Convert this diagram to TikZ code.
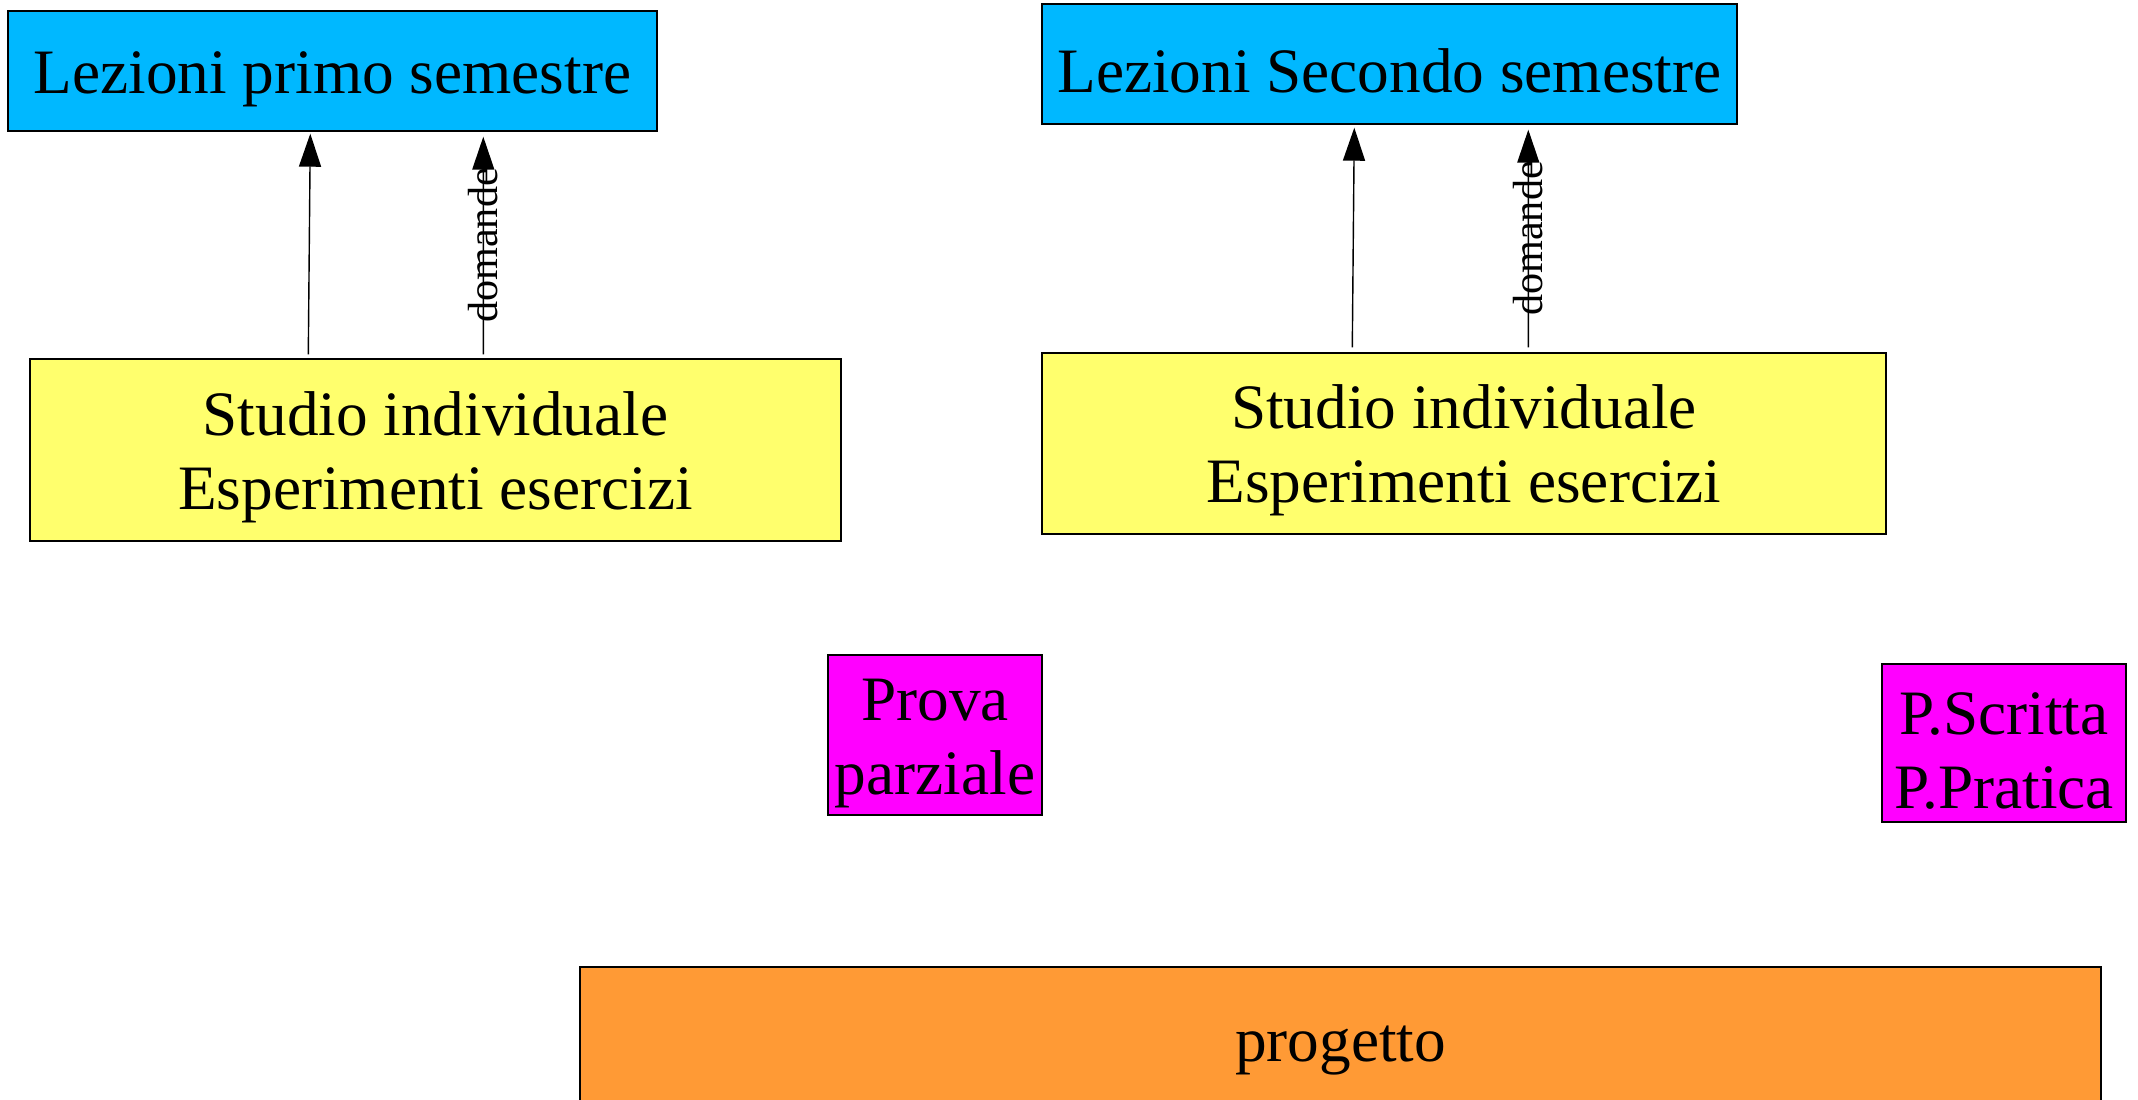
\documentclass[tikz,border=0pt]{standalone}
\usepackage{fontspec}
\setmainfont{Liberation Serif}
\usetikzlibrary{calc,arrows.meta}
\definecolor{lezblue}{HTML}{00B8FF}
\definecolor{studyellow}{HTML}{FFFF6D}
\definecolor{provmagenta}{HTML}{FF00FF}
\definecolor{progorange}{HTML}{FF9A35}
\newcommand{\tstrut}{\vrule width 0pt height 16.5pt}

\begin{document}
\begin{tikzpicture}[
  box/.style={draw, line width=0.4pt, inner sep=0pt, align=center, font=\fontsize{18}{21}\selectfont},
  arr/.style={-{Triangle[width=0.22cm,length=0.33cm]}, line width=0.4pt},
  qlabel/.style={midway, rotate=90, inner sep=0pt, font=\fontsize{12}{14}\selectfont}
]
\useasboundingbox (0, 0) rectangle (21.38, 10.99);

\node [box, fill=lezblue, minimum width=6.49cm, minimum height=1.20cm] (lez1) at (3.325, 10.28) {\tstrut Lezioni primo semestre};
\node [box, fill=lezblue, minimum width=6.95cm, minimum height=1.20cm] (lez2) at (13.895, 10.35) {\tstrut Lezioni Secondo semestre};

\node [box, fill=studyellow, minimum width=8.11cm, minimum height=1.82cm] (studio1) at (4.355, 6.49) {\tstrut Studio individuale\\Esperimenti esercizi};
\node [box, fill=studyellow, minimum width=8.44cm, minimum height=1.81cm] (studio2) at (14.64, 6.555) {\tstrut Studio individuale\\Esperimenti esercizi};

\node [box, fill=provmagenta, minimum width=2.14cm, minimum height=1.60cm] (prova) at (9.35, 3.64) {\tstrut Prova\\parziale};
\node [box, fill=provmagenta, minimum width=2.44cm, minimum height=1.58cm] (esame) at (20.04, 3.56) {\tstrut P.Scritta\\P.Pratica};

\node [box, fill=progorange, minimum width=15.21cm, minimum height=1.44cm] (progetto) at (13.405, 0.60) {\tstrut progetto};

% first semester
\draw [arr] ($(studio1.north west)+(2.79, 0.04)$) -- ($(lez1.south west)+(3.03, -0.02)$);
\draw [arr] ($(studio1.north west)+(4.54, 0.04)$) -- ($(lez1.south west)+(4.76, -0.05)$) node [qlabel] {domande};

% second semester
\draw [arr] ($(studio2.north west)+(3.11, 0.05)$) -- ($(lez2.south west)+(3.13, -0.03)$);
\draw [arr] ($(studio2.north west)+(4.87, 0.05)$) -- ($(lez2.south west)+(4.87, -0.05)$) node [qlabel] {domande};
\end{tikzpicture}
\end{document}
